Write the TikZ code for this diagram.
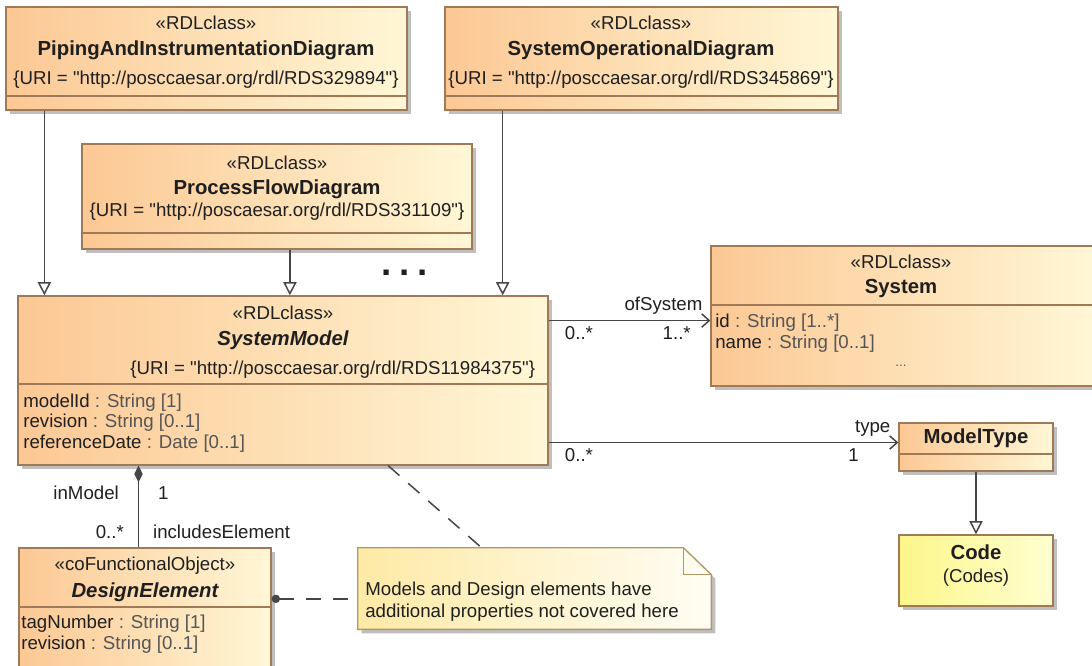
\documentclass[tikz,border=0pt]{standalone}
\usepackage{fontspec}
\setmainfont{Liberation Sans}
\usepackage{tikz}
\usetikzlibrary{
	positioning,
	arrows.meta,
	shadows,
	fit,
	calc
}

\definecolor{umlleft}{RGB}{252,200,148}
\definecolor{umlright}{RGB}{255,247,214}
\definecolor{umlborder}{RGB}{160,122,86}
\definecolor{codeleft}{RGB}{252,246,138}
\definecolor{coderight}{RGB}{255,255,208}
\definecolor{noteleft}{RGB}{254,234,166}
\definecolor{noteright}{RGB}{255,253,244}
\definecolor{noteborder}{RGB}{176,152,100}
\definecolor{linegray}{RGB}{70,70,70}
\definecolor{typegray}{RGB}{85,85,85}

\begin{document}
\begin{tikzpicture}[
	x=0.6pt, y=-0.6pt,
	every node/.style={font=\fontsize{11.2}{12.3}\selectfont, text=black!88},
	umlshadow/.style={drop shadow={shadow xshift=2.4pt, shadow yshift=-2.4pt, fill=black!50, opacity=.5}},
	classbox/.style={draw=umlborder, line width=.8pt, left color=umlleft, right color=umlright, inner sep=0pt, umlshadow},
	codebox/.style={classbox, left color=codeleft, right color=coderight},
	compline/.style={draw=umlborder, line width=.8pt},
	clsname/.style={font=\fontsize{12.2}{13}\selectfont\bfseries},
	absname/.style={font=\fontsize{12.2}{13}\selectfont\bfseries\itshape},
	attrs/.style={align=left, anchor=west, inner sep=0pt},
	gen/.style={draw=linegray, line width=.9pt, -{Triangle[open, length=8pt, width=8pt]}},
	assoc/.style={draw=linegray, line width=.9pt, -{Straight Barb[length=4.5pt, width=8pt]}},
	comp/.style={draw=linegray, line width=.9pt, {Diamond[length=10pt, width=5pt]}-},
	anchorline/.style={draw=linegray, line width=.9pt, dash pattern=on 9pt off 7pt}
]
	\useasboundingbox (0,0) rectangle (1092,666);
	\clip (0,0) rectangle (1092,666);

	% class boxes
	\node[classbox, fit={(6,7) (407,110)}]     (pid)  {};
	\node[classbox, fit={(445,7) (838,110)}]   (sod)  {};
	\node[classbox, fit={(82,144) (472,249)}]  (pfd)  {};
	\node[classbox, fit={(18,296) (548,465)}]  (sm)   {};
	\node[classbox, fit={(711,246) (1096,386)}] (sys) {};
	\node[classbox, fit={(899,423) (1053,471)}] (mt)  {};
	\node[codebox,  fit={(899,535) (1053,606)}] (code) {};
	\node[classbox, fit={(19,548) (271,700)}]  (de)   {};

	\draw[compline] (pid.west |- 0,96)  -- (pid.east |- 0,96);
	\draw[compline] (sod.west |- 0,96)  -- (sod.east |- 0,96);
	\draw[compline] (pfd.west |- 0,233) -- (pfd.east |- 0,233);
	\draw[compline] (sm.west |- 0,384)  -- (sm.east |- 0,384);
	\draw[compline] (sys.west |- 0,305) -- (sys.east |- 0,305);
	\draw[compline] (mt.west |- 0,454)  -- (mt.east |- 0,454);
	\draw[compline] (de.west |- 0,607)  -- (de.east |- 0,607);

	% note
	\node[inner sep=0pt, fit={(358,548) (711,629)}] (note) {};
	\path[draw=noteborder, line width=.8pt, left color=noteleft, right color=noteright, umlshadow]
		(note.north west) -- ([xshift=-16.8pt]note.north east) -- ([yshift=-16.2pt]note.north east)
		-- (note.south east) -- (note.south west) -- cycle;
	\draw[draw=noteborder, line width=.8pt] ([xshift=-16.8pt]note.north east)
		-- ([xshift=-16.8pt, yshift=-16.2pt]note.north east) -- ([yshift=-16.2pt]note.north east);
	\node[align=left, anchor=west, inner sep=0pt, font=\fontsize{11.2}{13.2}\selectfont] (note-txt) at (365,602)
		{Models and Design elements have\\additional properties not covered here};

	% texts
	\node              (pid-st)  at (206,23) {«RDLclass»};
	\node[clsname]     (pid-nm)  at (206,50) {PipingAndInstrumentationDiagram};
	\node              (pid-uri) at (206,80) {\{URI = \textquotedbl http://posccaesar.org/rdl/RDS329894\textquotedbl\}};

	\node              (sod-st)  at (641,23) {«RDLclass»};
	\node[clsname]     (sod-nm)  at (641,50) {SystemOperationalDiagram};
	\node              (sod-uri) at (641,80) {\{URI = \textquotedbl http://posccaesar.org/rdl/RDS345869\textquotedbl\}};

	\node              (pfd-st)  at (277,163) {«RDLclass»};
	\node[clsname]     (pfd-nm)  at (277,189) {ProcessFlowDiagram};
	\node              (pfd-uri) at (277,212) {\{URI = \textquotedbl http://poscaesar.org/rdl/RDS331109\textquotedbl\}};

	\node[font=\fontsize{22}{22}\selectfont\bfseries] (more) at (405,273) {.\hspace{4.7pt}.\hspace{4.7pt}.};

	\node              (sm-st)   at (283,313) {«RDLclass»};
	\node[absname]     (sm-nm)   at (283,340) {SystemModel};
	\node[anchor=east] (sm-uri)  at (541,370) {\{URI = \textquotedbl http://posccaesar.org/rdl/RDS11984375\textquotedbl\}};
	\node[attrs]       (sm-attr) at (23,423)
		{modelId {\color{typegray}: String [1]}\\revision {\color{typegray}: String [0..1]}\\referenceDate {\color{typegray}: Date [0..1]}};

	\node              (sys-st)   at (901,262) {«RDLclass»};
	\node[clsname]     (sys-nm)   at (901,289) {System};
	\node[attrs]       (sys-attr) at (715,333)
		{id {\color{typegray}: String [1..*]}\\name {\color{typegray}: String [0..1]}};
	\node[text=typegray, font=\fontsize{8}{8}\selectfont] (sys-more) at (901,366) {...};

	\node[clsname]     (mt-nm)    at (976,438) {ModelType};
	\node[clsname]     (code-nm)  at (976,552) {Code};
	\node              (code-lib) at (976,578) {(Codes)};

	\node              (de-st)   at (145,566) {«coFunctionalObject»};
	\node[absname]     (de-nm)   at (145,592) {DesignElement};
	\node[attrs]       (de-attr) at (21,634)
		{tagNumber {\color{typegray}: String [1]}\\revision {\color{typegray}: String [0..1]}};

	% connectors
	\coordinate (g1) at ($(pid.south west)!0.097!(pid.south east)$);
	\coordinate (g2) at ($(pfd.south west)!0.533!(pfd.south east)$);
	\coordinate (g3) at ($(sod.south west)!0.148!(sod.south east)$);
	\draw[gen] (g1) -- (g1 |- sm.north);
	\draw[gen] (g2) -- (g2 |- sm.north);
	\draw[gen] (g3) -- (g3 |- sm.north);
	\draw[gen] (mt.south) -- (code.north);

	\coordinate (a1) at ($(sm.north east)!0.148!(sm.south east)$);
	\draw[assoc] (a1) -- (a1 -| sys.west)
		node[pos=0, below right, xshift=6pt]  (m1) {0..*}
		node[pos=1, above left, xshift=-1pt]  (r1) {ofSystem}
		node[pos=1, below left, xshift=-8pt]  (m2) {1..*};

	\coordinate (a2) at ($(sm.north east)!0.864!(sm.south east)$);
	\draw[assoc] (a2) -- (a2 -| mt.west)
		node[pos=0, below right, xshift=6pt]  (m3) {0..*}
		node[pos=1, above left, xshift=-1pt]  (r2) {type}
		node[pos=1, below left, xshift=-20pt] (m4) {1};

	\coordinate (c1) at ($(sm.south west)!0.228!(sm.south east)$);
	\draw[comp] (c1) -- (c1 |- de.north)
		node[pos=.33, left=8pt]  (r3) {inModel}
		node[pos=.33, right=8pt] (m5) {1}
		node[pos=.81, left=5pt]  (m6) {0..*}
		node[pos=.81, right=5pt] (r4) {includesElement};

	\draw[anchorline] (sm.-39) -- ($(note.north west)!0.35!(note.north east)$);
	\draw[anchorline, {Circle[length=5pt]}-] ($(de.north east)!0.336!(de.south east)$) coordinate (de-dot)
		-- (note.west |- de-dot);
\end{tikzpicture}
\end{document}
